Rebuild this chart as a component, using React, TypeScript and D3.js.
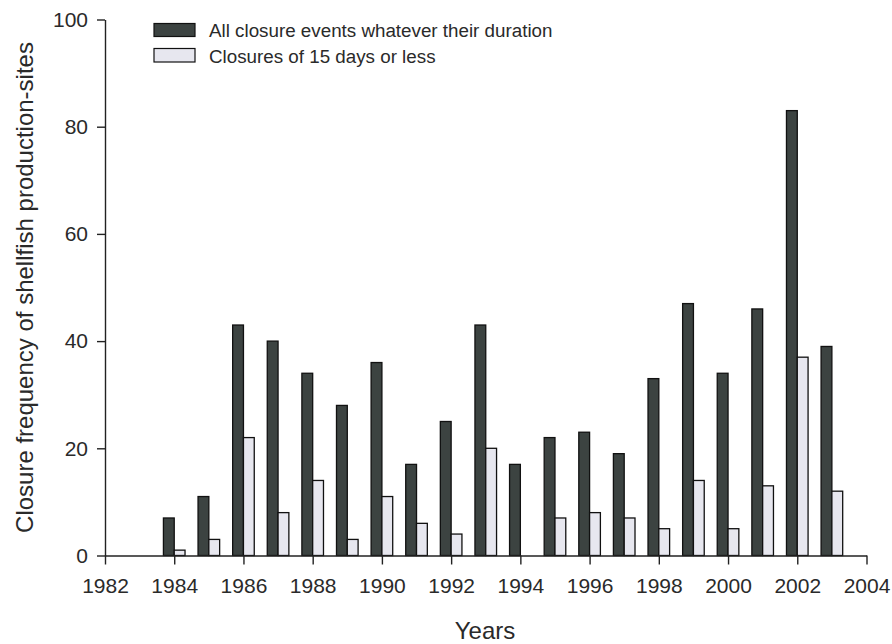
import React, { useEffect, useRef } from "react";
import * as d3 from "d3";

const years = [1984, 1985, 1986, 1987, 1988, 1989, 1990, 1991, 1992, 1993, 1994, 1995, 1996, 1997, 1998, 1999, 2000, 2001, 2002, 2003];
const allClosures = [7, 11, 43, 40, 34, 28, 36, 17, 25, 43, 17, 22, 23, 19, 33, 47, 34, 46, 83, 39];
const shortClosures = [1, 3, 22, 8, 14, 3, 11, 6, 4, 20, 0, 7, 8, 7, 5, 14, 5, 13, 37, 12];
const xTicks = [1982, 1984, 1986, 1988, 1990, 1992, 1994, 1996, 1998, 2000, 2002, 2004];
const yTicks = [0, 20, 40, 60, 80, 100];
const seriesNames = ["All closure events whatever their duration", "Closures of 15 days or less"];
const xTitle = "Years";
const yTitle = "Closure frequency of shellfish production-sites";

const W = 892;
const H = 644;
const FONT = "'Liberation Sans', Arial, sans-serif";
const DARK = "#3c4341";
const LIGHT = "#e7e7ef";

export default function App() {
  const xAxisRef = useRef<SVGGElement>(null);
  const yAxisRef = useRef<SVGGElement>(null);

  const x = d3.scaleLinear().domain([1982, 2004]).range([105, 866.5]);
  const y = d3.scaleLinear().domain([0, 100]).range([555.5, 19.5]);
  const bw = 10.8;

  useEffect(() => {
    const xa = d3.select(xAxisRef.current!);
    xa.call(d3.axisBottom(x).tickValues(xTicks).tickFormat(d3.format("d")).tickSizeInner(9).tickSizeOuter(0).tickPadding(14) as any);
    xa.select(".domain").attr("stroke", "#222").attr("stroke-width", 1.4);
    xa.selectAll(".tick line").attr("stroke", "#222").attr("stroke-width", 1.4);
    xa.selectAll(".tick text").attr("font-size", 21).attr("font-family", FONT).attr("fill", "#2a2a2a");

    const ya = d3.select(yAxisRef.current!);
    ya.call(d3.axisLeft(y).tickValues(yTicks).tickSizeInner(8).tickSizeOuter(0).tickPadding(9) as any);
    ya.select(".domain").attr("stroke", "#222").attr("stroke-width", 1.4);
    ya.selectAll(".tick line").attr("stroke", "#222").attr("stroke-width", 1.4);
    ya.selectAll(".tick text").attr("font-size", 21).attr("font-family", FONT).attr("fill", "#2a2a2a");
  }, []);

  return (
    <svg width={W} height={H} style={{ position: "absolute", left: 0, top: 0, background: "#fff" }}>
      <g>
        {years.map((yr, i) => (
          <g key={yr}>
            {allClosures[i] > 0 && (
              <rect x={x(yr) - bw} y={y(allClosures[i])} width={bw} height={y(0) - y(allClosures[i])}
                fill={DARK} stroke="#111" strokeWidth={1.3} />
            )}
            {shortClosures[i] > 0 && (
              <rect x={x(yr)} y={y(shortClosures[i])} width={bw} height={y(0) - y(shortClosures[i])}
                fill={LIGHT} stroke="#111" strokeWidth={1.3} />
            )}
          </g>
        ))}
      </g>
      <g ref={xAxisRef} transform={`translate(0,${y(0)})`} />
      <g ref={yAxisRef} transform={`translate(${x(1982)},0)`} />
      <text x={485} y={639} textAnchor="middle" fontSize={24} fontFamily={FONT} fill="#2a2a2a">{xTitle}</text>
      <text transform={`translate(33,${(y(0) + y(100)) / 2}) rotate(-90)`} textAnchor="middle" fontSize={24}
        fontFamily={FONT} fill="#2a2a2a">{yTitle}</text>
      <g>
        <rect x={154} y={23.5} width={41} height={13} fill={DARK} stroke="#111" strokeWidth={1.2} />
        <text x={209} y={37} fontSize={18.8} fontFamily={FONT} fill="#2a2a2a">{seriesNames[0]}</text>
        <rect x={154} y={48.5} width={41} height={13.5} fill={LIGHT} stroke="#111" strokeWidth={1.2} />
        <text x={209} y={63} fontSize={18.8} fontFamily={FONT} fill="#2a2a2a">{seriesNames[1]}</text>
      </g>
    </svg>
  );
}
